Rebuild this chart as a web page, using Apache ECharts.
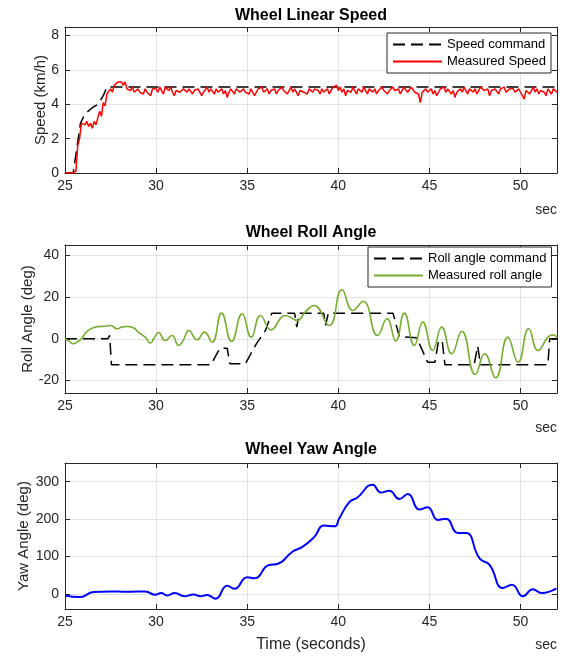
<!DOCTYPE html>
<html>
<head>
<meta charset="utf-8">
<script src="https://cdn.jsdelivr.net/npm/echarts@6/dist/echarts.min.js"></script>
<style>
html,body{margin:0;padding:0;background:#fff;}
#chart{width:563px;height:658px;}
</style>
</head>
<body>
<div id="chart"></div>
<script>
// ---------- DATA ----------
const titles = ['Wheel Linear Speed', 'Wheel Roll Angle', 'Wheel Yaw Angle'];
const yNames = ['Speed (km/h)', 'Roll Angle (deg)', 'Yaw Angle (deg)'];
const xName = 'Time (seconds)';
const unitLabel = 'sec';

// Speed command [t, km/h]
const speedCommand = [[25,0],[25.45,0],[25.85,2.9],[26.1,3.45],[26.5,3.8],[26.8,4.0],[27.1,4.5],[27.3,5.0],[52,5.0]];

// Measured speed sampled every 0.1 s from 25.0 s
const speedStart = 25.0, speedStep = 0.1;
const measuredSpeed = [
 0,0,0,0,0,0,0.1,1.6,2.0,2.9,
 2.9,2.8,3.0,2.7,2.9,2.6,3.0,2.8,2.7,3.6,
 3.3,4.1,3.9,4.6,4.5,4.9,4.7,5.1,5.0,5.3,
 5.2,5.3,5.1,5.3,4.9,5.0,4.8,5.0,4.7,4.8,
 4.9,4.7,4.8,4.6,4.9,4.7,4.8,4.5,4.9,4.8,
 4.9,4.7,5.0,4.8,4.6,5.0,4.9,4.8,5.0,4.7,
 4.5,4.8,4.9,4.7,4.6,4.9,4.8,4.7,4.9,4.8,
 4.6,4.8,4.7,4.9,4.8,4.5,4.7,4.8,5.0,4.7,
 4.9,4.8,4.6,4.9,4.7,4.8,4.9,4.6,4.8,4.4,
 4.7,4.9,4.8,4.6,4.9,5.0,4.7,4.8,4.9,4.7,
 4.8,4.6,4.9,4.8,4.5,4.7,4.9,4.8,5.0,4.7,
 4.8,4.9,4.6,4.8,4.7,4.9,4.6,4.8,4.7,5.0,
 4.8,4.9,4.6,4.8,5.0,4.7,4.9,4.8,4.5,4.8,
 4.9,4.7,4.8,4.6,4.9,4.8,4.7,4.9,5.0,4.8,
 4.6,4.9,4.7,4.8,4.9,4.6,4.8,5.0,4.9,5.1,
 4.8,5.0,4.7,4.9,4.5,4.8,4.9,4.7,5.0,4.8,
 4.6,4.9,4.8,4.7,5.0,4.8,4.6,4.9,4.8,4.7,
 4.9,4.6,4.8,4.7,5.0,4.8,4.9,4.6,4.8,4.9,
 5.0,4.8,4.7,4.9,4.6,4.8,5.0,4.9,4.7,4.8,
 5.0,4.9,4.7,4.8,4.6,4.1,4.7,4.8,4.9,4.7,
 4.8,4.9,4.6,4.8,4.5,4.7,4.9,4.8,5.0,4.7,
 4.9,4.8,4.6,4.8,4.4,4.7,4.8,4.9,4.7,5.0,
 4.8,4.6,4.9,4.8,4.7,4.9,4.6,4.8,5.0,4.9,
 4.8,4.7,4.9,4.5,4.8,4.7,4.9,4.8,4.6,4.9,
 4.8,5.0,4.7,4.6,4.9,4.8,4.9,4.7,4.8,4.9,
 4.7,4.8,4.3,4.8,4.9,4.6,4.8,5.0,4.7,4.9,
 4.6,4.8,4.9,4.7,4.5,4.9,4.8,4.6,4.9,4.8,
 4.7
];

// Roll angle command [t, deg]
const rollCommand = [[25,0],[27.35,0],[27.45,1.6],[27.55,-12.5],[33.0,-12.5],[33.5,-4.5],[33.9,-4.5],[34.05,-12],[34.9,-12],
 [35.5,-2.4],[36.0,4],[36.35,12.3],[37.6,12.3],[37.72,5.6],[37.85,12.3],[39.2,12.3],[39.3,6.4],[39.45,12.3],[43.0,12.3],
 [43.35,1],[44.3,0.5],[44.9,-11.2],[45.3,-11.2],[45.5,-1],[45.7,-1],[45.85,-12.5],[47.45,-12.5],[47.65,-3.5],[47.8,-12.5],
 [51.5,-12.5],[51.6,0],[52,0]];

// Measured roll angle [t, deg]
const rollMeasured = [[25.0,0],[25.2,-1],[25.45,-2.4],[25.65,-1.6],[25.9,0],[26.2,3.5],[26.55,5.3],[26.9,5.9],[27.2,6.0],[27.5,6.4],
 [27.85,4.8],[28.1,5.6],[28.4,5.9],[28.75,5.3],[29.05,3],[29.4,0.8],[29.68,-2.1],[29.9,0.5],[30.13,3.0],[30.5,-0.8],
 [30.87,1.6],[31.24,-3.2],[31.5,-0.5],[31.79,4],[32.25,-0.5],[32.65,3.2],[33.07,-1.6],[33.59,12.3],[34.14,-1.3],[34.72,12],
 [35.22,0.8],[35.73,11.2],[36.3,4.3],[37.1,11.2],[37.75,8.8],[38.2,13],[38.67,16],[39.5,6.4],[40.2,23.5],[40.8,13.6],
 [41.36,18],[42.15,1.6],[42.67,9.6],[43.15,-1],[43.62,12.3],[44.17,-3.2],[44.63,8],[45.18,-5.6],[45.67,5.6],[46.22,-7.2],
 [46.77,3.6],[47.52,-17.1],[48.03,-7.2],[48.63,-18.7],[49.3,0.8],[49.86,-11.2],[50.45,4.8],[50.96,-5.6],[51.5,0.8],[51.78,1.9],[52.0,0.8]];

// Yaw angle [t, deg]
const yawMeasured = [[25.0,-3.7],[25.83,-8],[26.56,5.3],[27.48,7],[28.4,6],[29.4,7],[29.95,-2],[30.28,2.6],[30.6,-3.7],[31.02,2.6],
 [31.55,-6],[32.06,-1],[32.43,-6],[32.8,-2.6],[33.26,-12.5],[33.9,22],[34.3,14],[35.0,45],[35.4,42],[36.19,77.5],
 [36.65,80],[37.48,113],[38.03,126],[38.67,152],[39.22,183],[39.8,181],[40.04,201],[40.59,245],[41.05,258],[41.88,292],
 [42.34,271],[42.8,276],[43.35,254],[43.81,267],[44.45,226],[44.9,232],[45.46,198],[45.91,201],[46.56,163],[47.01,163],
 [47.75,95],[48.3,78],[49.03,16],[49.53,25],[50.13,-6],[50.68,13],[51.14,2.6],[51.97,15]];

// Axis settings (ranges)
const xMin = 25, xMax = 52, xStep = 5;
const yRanges = [{min:0, max:8.5, interval:2}, {min:-26, max:45, split:3}, {min:-40, max:350, split:4}];
const legendNames = [['Speed command','Measured Speed'], ['Roll angle command','Measured roll angle']];

// ---------- CHART ----------
const FONT = '"Liberation Sans", Arial, Helvetica, sans-serif';
const AX = '#262626';
const gridsPos = [{top:27, height:146}, {top:245, height:148}, {top:463, height:146}];
const grids = gridsPos.map(g => ({left:65, width:492, top:g.top, height:g.height}));

const xAxes = [], yAxes = [];
grids.forEach((g, i) => {
  xAxes.push({
    type:'value', gridIndex:i, min:xMin, max:xMax, interval:xStep, position:'bottom',
    axisLine:{show:true, onZero:false, lineStyle:{color:AX, width:1}},
    axisTick:{show:true, inside:true, length:5, lineStyle:{color:AX}},
    axisLabel:{show:true, color:AX, fontSize:14, fontFamily:FONT, margin:6, showMaxLabel:false},
    splitLine:{show:true, lineStyle:{color:'#e3e3e3', width:1}},
    name: i===2 ? xName : '', nameLocation:'middle', nameGap:28, nameMoveOverlap:false,
    nameTextStyle:{color:AX, fontSize:16, fontFamily:FONT}
  });
  xAxes.push({
    type:'value', gridIndex:i, min:xMin, max:xMax, interval:xStep, position:'top',
    axisLine:{show:true, onZero:false, lineStyle:{color:AX, width:1}},
    axisTick:{show:true, inside:true, length:5, lineStyle:{color:AX}},
    axisLabel:{show:false}, splitLine:{show:false}
  });
  const r = yRanges[i];
  const base = {type:'value', gridIndex:i, min:r.min, max:r.max};
  if (r.interval) base.interval = r.interval; else base.splitNumber = r.split;
  const gaps = [17, 30, 34];
  yAxes.push(Object.assign({}, base, {
    position:'left',
    axisLine:{show:true, onZero:false, lineStyle:{color:AX, width:1}},
    axisTick:{show:true, inside:true, length:5, lineStyle:{color:AX}},
    axisLabel:{show:true, color:AX, fontSize:14, fontFamily:FONT, margin:6, showMaxLabel:false, showMinLabel: i===0},
    splitLine:{show:true, lineStyle:{color:'#e3e3e3', width:1}},
    name:yNames[i], nameLocation:'middle', nameGap:gaps[i], nameMoveOverlap:false,
    nameTextStyle:{color:AX, fontSize:15, fontFamily:FONT}
  }));
  yAxes.push(Object.assign({}, base, {
    position:'right',
    axisLine:{show:true, onZero:false, lineStyle:{color:AX, width:1}},
    axisTick:{show:true, inside:true, length:5, lineStyle:{color:AX}},
    axisLabel:{show:false}, splitLine:{show:false}
  }));
});

const dash = [12, 6];
const speedMeasuredPairs = measuredSpeed.map((v, i) => [+(speedStart + i*speedStep).toFixed(2), v]);

const series = [
  {name:legendNames[0][0], type:'line', xAxisIndex:0, yAxisIndex:0, data:speedCommand, symbol:'none',
   lineStyle:{color:'#000', width:1.5, type:dash}, itemStyle:{color:'#000'}},
  {name:legendNames[0][1], type:'line', xAxisIndex:0, yAxisIndex:0, data:speedMeasuredPairs, symbol:'none',
   lineStyle:{color:'#ff0000', width:1.5}, itemStyle:{color:'#ff0000'}},
  {name:legendNames[1][0], type:'line', xAxisIndex:2, yAxisIndex:2, data:rollCommand, symbol:'none',
   lineStyle:{color:'#000', width:1.5, type:dash}, itemStyle:{color:'#000'}},
  {name:legendNames[1][1], type:'line', xAxisIndex:2, yAxisIndex:2, data:rollMeasured, symbol:'none', smooth:0.5,
   lineStyle:{color:'#77ac30', width:1.6}, itemStyle:{color:'#77ac30'}},
  {name:'Yaw', type:'line', xAxisIndex:4, yAxisIndex:4, data:yawMeasured, symbol:'none', smooth:0.5,
   lineStyle:{color:'#0000ff', width:2}, itemStyle:{color:'#0000ff'}}
];

const legendBase = {
  orient:'vertical', backgroundColor:'#fff', borderColor:AX, borderWidth:1, borderRadius:0,
  itemWidth:49, itemHeight:14, itemGap:4, padding:[5,5,5,5],
  itemStyle:{opacity:0},
  textStyle:{color:'#000', fontSize:13, fontFamily:FONT}, selectedMode:false, z:10
};
const legends = [
  Object.assign({}, legendBase, {left:387, top:33, data:legendNames[0]}),
  Object.assign({}, legendBase, {left:368, top:247, data:legendNames[1]})
];

const titleY = [16, 233, 450];
const secY = [210, 428, 645];
const graphic = [];
titles.forEach((t, i) => graphic.push({type:'text', x:311, y:titleY[i], z:20,
  style:{text:t, fill:'#000', font:'bold 16px ' + FONT, textAlign:'center', textVerticalAlign:'middle'}}));
secY.forEach(y => graphic.push({type:'text', x:557, y:y, z:20,
  style:{text:unitLabel, fill:AX, font:'14px ' + FONT, textAlign:'right', textVerticalAlign:'middle'}}));

const chart = echarts.init(document.getElementById('chart'), null, {renderer:'canvas'});
chart.setOption({
  animation:false,
  backgroundColor:'#fff',
  grid:grids, xAxis:xAxes, yAxis:yAxes, series:series, legend:legends, graphic:graphic
});
</script>
</body>
</html>
